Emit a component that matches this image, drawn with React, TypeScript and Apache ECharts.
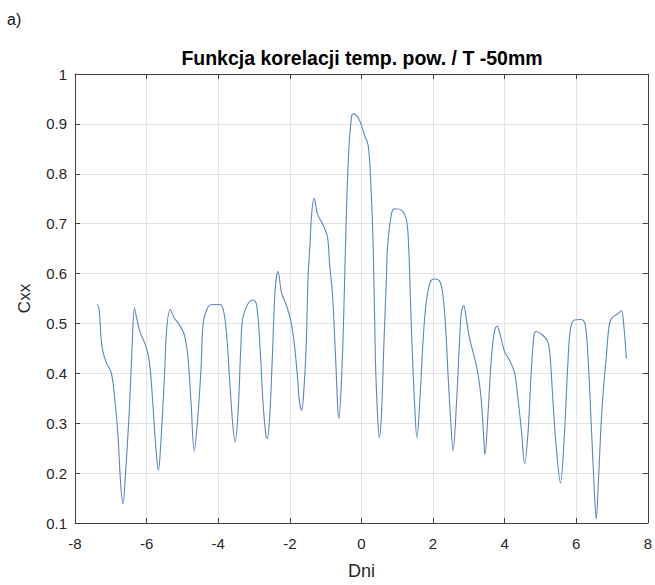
import React, { useEffect, useRef } from "react";
import * as echarts from "echarts";

const titleText = "Funkcja korelacji temp. pow. / T -50mm";
const panelLabel = "a)";
const xName = "Dni";
const yName = "Cxx";

const lagDays = [
  -7.38, -7.33, -7.25, -7.13, -6.99, -6.9, -6.8, -6.73, -6.66, -6.59, -6.48, -6.4, -6.34,
  -6.27, -6.18, -6.06, -5.97, -5.9, -5.83, -5.74, -5.67, -5.6, -5.5, -5.44, -5.34,
  -5.23, -5.09, -4.95, -4.85, -4.76, -4.67, -4.58, -4.48, -4.42, -4.3, -4.16, -3.97,
  -3.86, -3.77, -3.67, -3.6, -3.53, -3.45, -3.37, -3.32, -3.18, -3.02,
  -2.93, -2.84, -2.75, -2.67, -2.63, -2.56, -2.49, -2.41, -2.33,
  -2.23, -2.12, -1.98, -1.88, -1.79, -1.73, -1.67, -1.61, -1.54, -1.49, -1.44, -1.39, -1.32,
  -1.23, -1.09, -0.95, -0.89, -0.81, -0.72, -0.66, -0.63, -0.55, -0.49, -0.42, -0.35, -0.27, -0.21,
  -0.05, 0.09, 0.19, 0.26, 0.33, 0.39, 0.45, 0.5, 0.56, 0.63, 0.7, 0.73, 0.84, 0.93,
  1.12, 1.26, 1.32, 1.35, 1.41, 1.49, 1.55, 1.63, 1.72, 1.81, 1.93, 2.05, 2.19, 2.28,
  2.35, 2.42, 2.5, 2.56, 2.65, 2.74, 2.79, 2.86, 2.93, 3.02, 3.14, 3.26, 3.35, 3.42, 3.45,
  3.53, 3.63, 3.72, 3.79, 3.86, 4.0, 4.14, 4.28, 4.37, 4.47, 4.56, 4.65, 4.74, 4.82, 4.88,
  5.02, 5.19, 5.26, 5.35, 5.44, 5.56, 5.66, 5.77, 5.84, 5.95, 6.14, 6.25, 6.33, 6.42, 6.51,
  6.56, 6.62, 6.72, 6.84, 6.93, 7.02, 7.16, 7.26, 7.33, 7.4,
];

const cxxValues = [
  0.538, 0.531, 0.455, 0.422, 0.402, 0.356, 0.277, 0.184, 0.138, 0.198, 0.33, 0.462, 0.531,
  0.508, 0.482, 0.462, 0.442, 0.409, 0.343, 0.25, 0.206, 0.264, 0.396, 0.488, 0.528,
  0.511, 0.498, 0.478, 0.435, 0.343, 0.244, 0.303, 0.409, 0.501, 0.531, 0.538, 0.538,
  0.528, 0.482, 0.376, 0.303, 0.262, 0.316, 0.449, 0.508, 0.538, 0.547,
  0.538, 0.462, 0.343, 0.277, 0.269, 0.316, 0.429, 0.567, 0.604,
  0.561, 0.541, 0.508, 0.462, 0.396, 0.343, 0.326, 0.363, 0.462, 0.594, 0.654, 0.72, 0.751,
  0.72, 0.7, 0.674, 0.62, 0.56, 0.429, 0.33, 0.31, 0.396, 0.528, 0.72, 0.85, 0.917, 0.92,
  0.907, 0.877, 0.857, 0.785, 0.654, 0.43, 0.318, 0.271, 0.318, 0.463, 0.594, 0.654, 0.72, 0.73,
  0.727, 0.706, 0.654, 0.594, 0.463, 0.332, 0.271, 0.343, 0.463, 0.542, 0.584, 0.589, 0.584, 0.555,
  0.495, 0.397, 0.298, 0.244, 0.332, 0.463, 0.522, 0.536, 0.509, 0.47, 0.437, 0.397, 0.345, 0.266, 0.237,
  0.312, 0.43, 0.486, 0.495, 0.482, 0.443, 0.426, 0.4, 0.351, 0.285, 0.219, 0.278, 0.397, 0.476, 0.484,
  0.479, 0.466, 0.443, 0.345, 0.253, 0.18, 0.265, 0.424, 0.489, 0.507, 0.508, 0.498, 0.43, 0.298, 0.158,
  0.108, 0.184, 0.329, 0.434, 0.5, 0.513, 0.519, 0.526, 0.495, 0.43,
];

const FONT = "'Liberation Sans', Arial, sans-serif";
const AXIS_COLOR = "#404040";
const TEXT_COLOR = "#262626";

export default function App() {
  const ref = useRef<HTMLDivElement>(null);

  useEffect(() => {
    if (!ref.current) return;
    const chart = echarts.init(ref.current, undefined, { renderer: "svg" });
    const data = lagDays.map((x, i) => [x, cxxValues[i]]);
    const fmtY = (v: number) => String(Math.round(v * 10) / 10);
    const baseX = {
      type: "value" as const,
      min: -8,
      max: 8,
      interval: 2,
    };
    const baseY = {
      type: "value" as const,
      min: 0.1,
      max: 1,
      interval: 0.1,
    };
    chart.setOption({
      animation: false,
      backgroundColor: "#ffffff",
      grid: { left: 75, right: 4, top: 74, bottom: 56, containLabel: false },
      graphic: [
        {
          type: "text",
          x: 7,
          y: 19,
          style: { text: panelLabel, font: `16px ${FONT}`, fill: "#111", verticalAlign: "middle" },
        },
        {
          type: "text",
          x: 362,
          y: 58,
          style: {
            text: titleText,
            font: `bold 19.5px ${FONT}`,
            fill: "#000",
            align: "center",
            verticalAlign: "middle",
          },
        },
      ],
      xAxis: [
        {
          ...baseX,
          position: "bottom",
          name: xName,
          nameLocation: "middle",
          nameGap: 39,
          nameTextStyle: { fontFamily: FONT, fontSize: 18, color: TEXT_COLOR },
          axisLine: { show: true, onZero: false, lineStyle: { color: AXIS_COLOR, width: 1 } },
          axisTick: { show: true, inside: true, length: 5, lineStyle: { color: AXIS_COLOR } },
          axisLabel: { fontFamily: FONT, fontSize: 15, color: TEXT_COLOR, margin: 13 },
          splitLine: { show: true, lineStyle: { color: "#e3e3e3", width: 1 } },
        },
        {
          ...baseX,
          position: "top",
          axisLine: { show: true, onZero: false, lineStyle: { color: AXIS_COLOR, width: 1 } },
          axisTick: { show: true, inside: true, length: 5, lineStyle: { color: AXIS_COLOR } },
          axisLabel: { show: false },
          splitLine: { show: false },
        },
      ],
      yAxis: [
        {
          ...baseY,
          position: "left",
          name: yName,
          nameLocation: "middle",
          nameGap: 42,
          nameRotate: 90,
          nameTextStyle: { fontFamily: FONT, fontSize: 17, color: TEXT_COLOR },
          axisLine: { show: true, onZero: false, lineStyle: { color: AXIS_COLOR, width: 1 } },
          axisTick: { show: true, inside: true, length: 5, lineStyle: { color: AXIS_COLOR } },
          axisLabel: { fontFamily: FONT, fontSize: 15, color: TEXT_COLOR, margin: 8, formatter: fmtY },
          splitLine: { show: true, lineStyle: { color: "#e3e3e3", width: 1 } },
        },
        {
          ...baseY,
          position: "right",
          axisLine: { show: true, onZero: false, lineStyle: { color: AXIS_COLOR, width: 1 } },
          axisTick: { show: true, inside: true, length: 5, lineStyle: { color: AXIS_COLOR } },
          axisLabel: { show: false },
          splitLine: { show: false },
        },
      ],
      series: [
        {
          type: "line",
          data,
          xAxisIndex: 0,
          yAxisIndex: 0,
          showSymbol: false,
          smooth: 0.35,
          lineStyle: { color: "#5a86c5", width: 1.1 },
        },
      ],
    });
    return () => chart.dispose();
  }, []);

  return (
    <div
      ref={ref}
      style={{ position: "fixed", left: 0, top: 0, width: 655, height: 585, background: "#fff" }}
    />
  );
}
